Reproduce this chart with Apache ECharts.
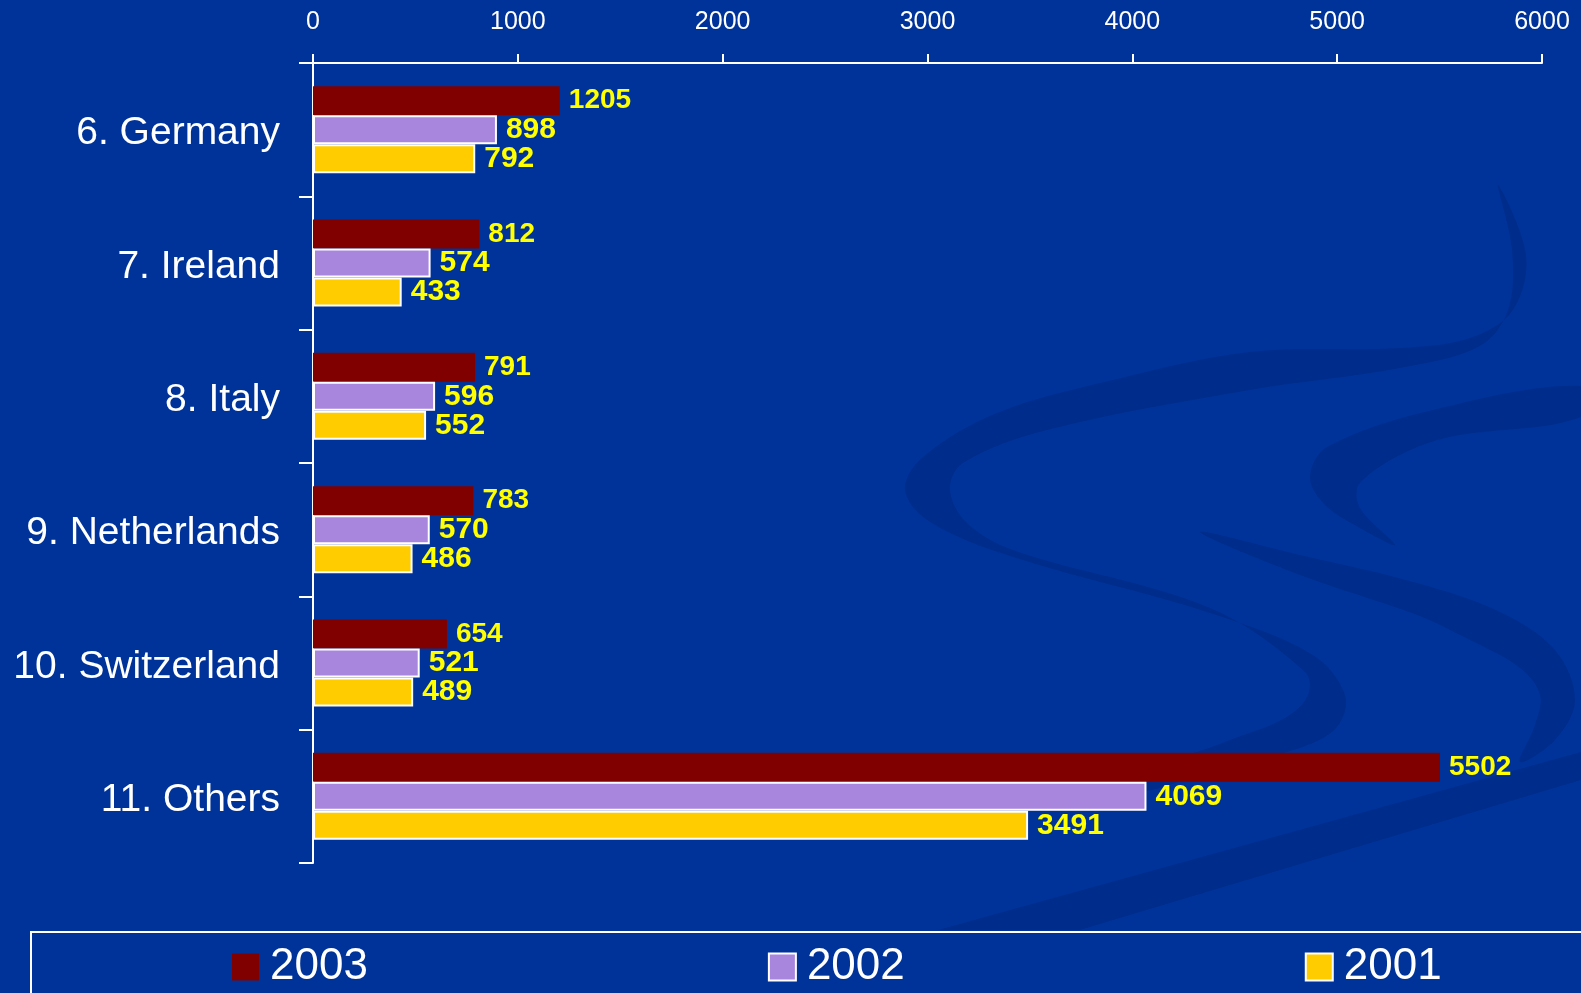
<!DOCTYPE html>
<html>
<head>
<meta charset="utf-8">
<title>Top countries 2001-2003</title>
<script src="https://cdn.jsdelivr.net/npm/echarts@6/dist/echarts.min.js"></script>
<style>
  html, body { margin: 0; padding: 0; background: #003399; }
  #chart { width: 1581px; height: 993px; }
</style>
</head>
<body>
<div id="chart"></div>
<script>
/* global echarts */
const countries = ['6. Germany', '7. Ireland', '8. Italy', '9. Netherlands', '10. Switzerland', '11. Others'];
const years = ['2003', '2002', '2001'];
const values2003 = [1205, 812, 791, 783, 654, 5502];
const values2002 = [898, 574, 596, 570, 521, 4069];
const values2001 = [792, 433, 552, 486, 489, 3491];
const xTicks = [0, 1000, 2000, 3000, 4000, 5000, 6000];

const FONT = '"Liberation Sans", Arial, sans-serif';
const colors = ['#800000', '#A886DE', '#FFCC00'];
const seriesValues = [values2003, values2002, values2001];

// darker swirls of the slide background (decoration only)
const swirlFill = 'rgba(0, 20, 80, 0.17)';
const swirls = [
  [[1498, 185], [1526, 255], [1513, 310], [1470, 338], [1400, 348], [1250, 352], [1113, 380],
    [997, 413], [923, 457], [905, 490], [930, 522], [1013, 557], [1210, 613], [1313, 655],
    [1345, 695], [1337, 727], [1300, 748], [1230, 765], [1140, 792],
    [1150, 772], [1230, 740], [1285, 718], [1308, 695], [1305, 672], [1210, 608], [1013, 550],
    [967, 523], [950, 490], [963, 463], [1047, 430], [1250, 390], [1400, 368], [1480, 346],
    [1508, 310], [1512, 250]],
  [[1581, 386], [1433, 410], [1327, 447], [1310, 477], [1325, 505], [1360, 528], [1395, 545],
    [1365, 515], [1357, 500], [1360, 483], [1400, 455], [1450, 437], [1581, 417]],
  [[1200, 532], [1300, 555], [1417, 583], [1500, 612], [1555, 650], [1575, 700], [1555, 740],
    [1520, 762], [1535, 725], [1540, 695], [1520, 668], [1470, 640], [1417, 615], [1300, 575]],
  [[938, 930], [1180, 863], [1581, 752], [1581, 780], [1180, 900], [1080, 930]]
];

const chart = echarts.init(document.getElementById('chart'));

chart.setOption({
  backgroundColor: '#003399',
  animation: false,
  graphic: [
    ...swirls.map((pts, i) => ({
      type: 'polygon',
      silent: true,
      z: -10,
      shape: { points: pts, smooth: i === 3 ? 0 : 0.35 },
      style: { fill: swirlFill }
    })),
    {
      type: 'rect',
      silent: true,
      shape: { x: 31, y: 932, width: 1600, height: 120 },
      style: { fill: 'none', stroke: '#ffffff', lineWidth: 2 }
    }
  ],
  legend: {
    data: years,
    left: 232,
    top: 945,
    padding: 0,
    itemWidth: 27,
    itemHeight: 27,
    itemGap: 400,
    icon: 'rect',
    textStyle: { color: '#ffffff', fontSize: 44, fontFamily: FONT, padding: [0, 0, 0, 6] }
  },
  grid: { left: 313, right: 39, top: 63, bottom: 130, containLabel: false },
  xAxis: {
    type: 'value',
    position: 'top',
    min: xTicks[0],
    max: xTicks[xTicks.length - 1],
    interval: xTicks[1] - xTicks[0],
    axisLine: { show: true, lineStyle: { color: '#ffffff', width: 2 } },
    axisTick: { show: true, length: 9, lineStyle: { color: '#ffffff', width: 2 } },
    splitLine: { show: false },
    axisLabel: {
      color: '#ffffff',
      fontSize: 25,
      fontFamily: FONT,
      margin: 28,
      formatter: (v) => String(v)
    }
  },
  yAxis: {
    type: 'category',
    data: countries,
    inverse: true,
    axisLine: { show: true, lineStyle: { color: '#ffffff', width: 2 } },
    axisTick: { show: true, length: 14, lineStyle: { color: '#ffffff', width: 2 } },
    axisLabel: {
      margin: 33,
      formatter: (v) => '{c|' + v + '}',
      rich: {
        c: { color: '#ffffff', fontSize: 39, fontFamily: FONT, padding: [8, 0, 0, 0] }
      }
    }
  },
  series: years.map((year, i) => ({
    name: year,
    type: 'bar',
    data: seriesValues[i],
    barWidth: 29,
    barGap: '0%',
    itemStyle: {
      color: colors[i],
      borderColor: i === 0 ? colors[i] : '#ffffff',
      borderWidth: i === 0 ? 0 : 2
    },
    label: {
      show: true,
      position: 'right',
      distance: 9,
      color: '#FFFF00',
      fontWeight: 'bold',
      fontSize: i === 0 ? 28 : 30,
      fontFamily: FONT
    }
  }))
});
</script>
</body>
</html>
